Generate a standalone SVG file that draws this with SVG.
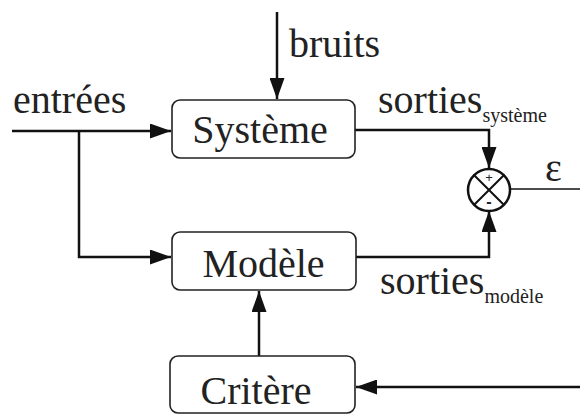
<svg xmlns="http://www.w3.org/2000/svg" width="580" height="414" viewBox="0 0 580 414">
<style>
.box{fill:#fff;stroke:#222;stroke-width:1.6}
.lbl{font-family:"Liberation Serif","Times New Roman",serif;font-size:40px;fill:#222}
.sub{font-family:"Liberation Serif","Times New Roman",serif;font-size:20px;fill:#222}
.sig{font-family:"Liberation Sans",Arial,sans-serif;fill:#222}
.wire{fill:none;stroke:#111;stroke-width:2.5}
.thin{fill:none;stroke:#111;stroke-width:1.5}
</style>
<defs>
<marker id="arr" markerUnits="userSpaceOnUse" markerWidth="21" markerHeight="15" refX="21" refY="7.5" orient="auto">
<path d="M0,0 L21,7.5 L0,15 z" fill="#111"/>
</marker>
</defs>
<rect width="580" height="414" fill="#fff"/>
<g id="connectors">
<path class="wire" d="M12,131 H171" marker-end="url(#arr)"/>
<path class="wire" d="M79,131 V257 H171" marker-end="url(#arr)"/>
<path class="wire" d="M277,12 V99" marker-end="url(#arr)"/>
<path class="wire" d="M355,130 H489 V168" marker-end="url(#arr)"/>
<path class="wire" d="M356,257 H489 V211" marker-end="url(#arr)"/>
<path class="wire" d="M259,356 V291" marker-end="url(#arr)"/>
<path class="wire" d="M580,387 H356" marker-end="url(#arr)"/>
<path class="thin" d="M510,189 H580"/>
</g>
<g id="systeme">
<rect class="box" x="172" y="100" width="183" height="58" rx="8"/>
<text class="lbl" x="260" y="143" text-anchor="middle">Système</text>
</g>
<g id="modele">
<rect class="box" x="172" y="232" width="184" height="58" rx="8"/>
<text class="lbl" x="263.5" y="277" text-anchor="middle">Modèle</text>
</g>
<g id="critere">
<rect class="box" x="170" y="356" width="185" height="57" rx="8"/>
<text class="lbl" x="256" y="404" text-anchor="middle">Critère</text>
</g>
<g id="comparateur">
<circle cx="489" cy="190" r="21" fill="#fff" stroke="#111" stroke-width="2.5"/>
<path d="M474.2,175.2 L503.8,204.8 M503.8,175.2 L474.2,204.8" stroke="#111" stroke-width="2" fill="none"/>
<text class="sig" x="489" y="182" font-size="13" text-anchor="middle">+</text>
<text class="sig" x="489" y="207" font-size="16" font-weight="bold" text-anchor="middle">-</text>
</g>
<g id="labels">
<text class="lbl" x="13" y="113">entrées</text>
<text class="lbl" x="289" y="57">bruits</text>
<text class="lbl" x="378" y="113">sorties<tspan class="sub" dy="9">système</tspan></text>
<text class="lbl" x="380" y="294">sorties<tspan class="sub" dy="9">modèle</tspan></text>
<text class="lbl" x="545" y="181" font-size="30">ε</text>
</g>
</svg>
